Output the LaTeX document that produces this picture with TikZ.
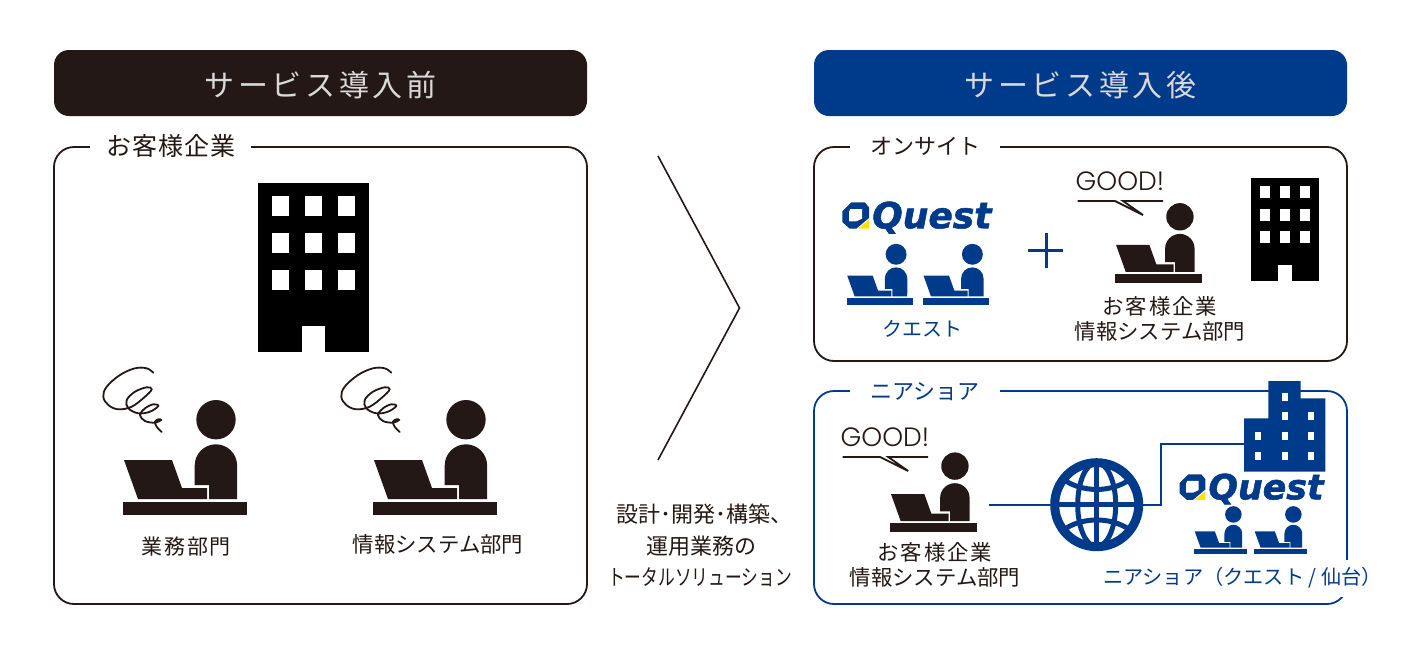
\documentclass[tikz,border=0pt]{standalone}
\usepackage{fontspec}
\setmainfont{Noto Sans CJK JP}
\newfontfamily\goodfont{Poppins Light}
\newfontfamily\logofont[FakeBold=1.5]{DejaVu Sans}
\usetikzlibrary{positioning}
\definecolor{ink}{HTML}{231815}
\definecolor{questblue}{HTML}{003A8A}
\definecolor{questyellow}{HTML}{FFE100}
\newcommand{\jsize}[2]{\fontsize{#1}{#1}\selectfont\addfontfeature{LetterSpace=#2}}

\begin{document}
\begin{tikzpicture}[x=1pt, y=-1pt,
    every node/.style={inner sep=0pt},
    headbar/.style={rounded corners=15pt, minimum width=533pt, minimum height=66pt, text=white!85!black, text height=26pt, text depth=0pt, font=\jsize{30}{12}},
    panel/.style={draw=ink, line width=1.8pt, rounded corners=20pt, minimum width=533pt},
    nearpanel/.style={panel, draw=questblue},
    tag/.style={fill=white, text=ink, font=\jsize{25}{4}, inner xsep=16pt, inner ysep=2pt},
    kanatag/.style={tag, inner xsep=20pt, font=\jsize{22}{0}},
    lbl/.style={text=ink, font=\jsize{21.4}{0}, align=center},
    goodtext/.style={text=ink, font=\goodfont\fontsize{26.5}{26.5}\selectfont},
    pics/person/.style={code={
        \fill (93,-82.3) circle (19.7);
        \fill (71.7,-17) -- (71.7,-36.5) arc (180:360:21.2) -- (114,-3) -- (86,-3) -- (86,-17) -- cycle;
        \fill (1,-42) -- (49,-42) -- (59,-14) -- (84,-14) -- (84,-3) -- (15,-3) -- cycle;
        \fill (0,0) rectangle (124.3,13);
    }},
    pics/mumble/.style={code={
        \draw[ink, line width=1.8pt, line cap=round] plot[smooth, tension=.6] coordinates {(51.3,7.7) (44.7,3.3) (33,3.3) (18,10) (4.7,21.7) (1.3,31.7) (6.3,40) (16.3,44.3) (29.7,41.7) (43,31.7) (49.7,24.3) (44.7,22.3) (33,26.7) (24.7,35) (26.3,43.3) (36.3,48.3) (48,46.7) (56.3,41) (51.3,39.3) (43,43.3) (38,50) (43,56) (53,57.7) (59,55) (56.3,54.3) (53,56.7) (54.7,61.7) (59.7,67)};
    }},
    pics/balloon/.style={code={
        \draw[ink, line width=1.8pt] (0,0) -- (37.5,0) -- (65.5,14) -- (45.5,0) -- (85.5,0);
    }},
    pics/tower/.style={code={
        \fill[black] (0,0) rectangle (111,169);
        \foreach \i in {14,47,80}
            \foreach \j in {13,50,87}
                \fill[white] (\i,\j) rectangle ++(17,20);
        \fill[white] (44,143) rectangle (67,169);
    }},
    pics/questlogo/.style={code={
        \fill[questblue] (9.3,0.3) -- (22.7,0.3) -- (27,5.3) -- (27,16) -- (14.3,26.7) -- (7.7,26.7) -- (0.3,20) -- (0.3,9.3) -- cycle;
        \fill[white] (8.3,7) -- (20,7) -- (20,16.7) -- (14.3,19.3) -- (7,19.3) -- (7,10) -- cycle;
        \fill[questyellow] (16,26.7) -- (27,26.7) -- (27,17.7) -- cycle;
        \node[anchor=west, text=questblue, transform shape, font=\logofont\bfseries\itshape\fontsize{36}{36}\selectfont] (-word) at (30,15.5) {Quest};
    }}]
    \useasboundingbox (0,0) rectangle (1401,659);

    % headers
    \node[headbar, fill=ink] (before) at (320.5,83) {サービス導入前};
    \node[headbar, fill=questblue] (after) at (1080.5,83) {サービス導入後};

    % panels
    \node[panel, minimum height=457pt] (customer) at (320.5,375.5) {};
    \node[panel, minimum height=214pt] (onsite) at (1080.5,254) {};
    \node[nearpanel, minimum height=213pt] (nearshore) at (1080.5,497.5) {};

    \node[tag] (customertag) at (170.5,146) {お客様企業};
    \node[kanatag] (onsitetag) at (925,146) {オンサイト};
    \node[kanatag, text=questblue] (neartag) at (925,392) {ニアショア};

    % left panel
    \pic at (258,183) {tower};
    \pic[fill=ink] at (123,502) {person};
    \pic[fill=ink] at (373,502) {person};
    \pic at (102,365) {mumble};
    \pic at (340,365) {mumble};
    \node[lbl, font=\jsize{21}{8}] (business) at (186.5,547) {業務部門};
    \node[lbl] (infosys) at (438,544) {情報システム部門};

    % big chevron
    \coordinate (chevtop) at (658,156);
    \coordinate (chevtip) at (739.5,308);
    \coordinate (chevbot) at (658,460);
    \draw[ink, line width=1.6pt] (chevtop) -- (chevtip) -- (chevbot);

    \node[lbl, font=\jsize{22}{0}] (total1) at (704,514) {設計･開発･構築、};
    \node[lbl, font=\jsize{22}{0}] (total2) at (701,546) {運用業務の};
    \node[lbl, font=\jsize{22}{0}, xscale=.76] (total3) at (700,577) {トータルソリューション};

    % onsite
    \pic at (842,202) {questlogo};
    \pic[fill=questblue, scale=.531] at (846.7,298) {person};
    \pic[fill=questblue, scale=.531] at (923,298) {person};
    \node[lbl, text=questblue, font=\jsize{20}{0}] (onsitequest) at (922,329) {クエスト};

    \coordinate (plusn) at (1046,233);
    \coordinate (pluss) at (1046,268);
    \coordinate (plusw) at (1028,250.7);
    \coordinate (pluse) at (1063,250.7);
    \draw[questblue, line width=3pt] (plusn) -- (pluss);
    \draw[questblue, line width=3pt] (plusw) -- (pluse);

    \node[goodtext] (good1) at (1120,181) {GOOD!};
    \pic at (1077.5,201) {balloon};
    \pic[fill=ink, scale=.695] at (1115.3,274) {person};
    \node[lbl] (onsiteinfo) at (1160,319) {{\addfontfeature{LetterSpace=9}お客様企業}\\[4pt]情報システム部門};
    \pic[scale=.61] at (1251,178) {tower};

    % nearshore
    \node[goodtext] (good2) at (885,437) {GOOD!};
    \pic at (842.7,457) {balloon};
    \pic[fill=ink, scale=.695] at (890.3,523.3) {person};
    \node[lbl] (nearinfo) at (935,565) {{\addfontfeature{LetterSpace=9}お客様企業}\\[4pt]情報システム部門};

    \node[circle, draw=questblue, line width=9pt, minimum size=84pt] (globe) at (1096.7,504.7) {};
    \begin{scope}[shift={(globe.center)}, questblue, line width=5pt]
        \draw (0,-42) -- (0,42);
        \draw (-42,0) -- (42,0);
        \draw (0,0) ellipse (19 and 42);
        \draw (-33,-25) .. controls (-14,-12) and (14,-12) .. (33,-25);
        \draw (-33,25) .. controls (-14,12) and (14,12) .. (33,25);
    \end{scope}

    \coordinate (nearperson) at (989,504.7);
    \coordinate (elbow) at (1161,504.7);
    \coordinate (officeport) at (1244,444);
    \draw[questblue, line width=2pt] (nearperson) -- (globe);
    \draw[questblue, line width=2pt] (globe) -- (elbow) |- (officeport);

    % office block
    \fill[questblue] (1268.3,381) -- (1300.7,381) -- (1300.7,398.3) -- (1325.3,398.3) -- (1325.3,471.7) -- (1244,471.7) -- (1244,418.3) -- (1268.3,418.3) -- cycle;
    \foreach \i/\j in {1284.7/397, 1284.7/416.3, 1310.7/416.3, 1258.3/436, 1284.7/436, 1310.7/436, 1258.3/455.7, 1284.7/455.7, 1310.7/455.7}
        \fill[white] (\i,\j) ++(-3,-4) rectangle ++(6,8);

    \pic[scale=.965] at (1179.3,474) {questlogo};
    \pic[fill=questblue, scale=.42] at (1194.3,549) {person};
    \pic[fill=questblue, scale=.42] at (1254.3,549) {person};
    \node[lbl, fill=white, text=questblue, font=\jsize{20.2}{0}, minimum height=37pt, inner xsep=2pt] (neartext) at (1242.5,578) {ニアショア（クエスト / 仙台）};
\end{tikzpicture}
\end{document}
